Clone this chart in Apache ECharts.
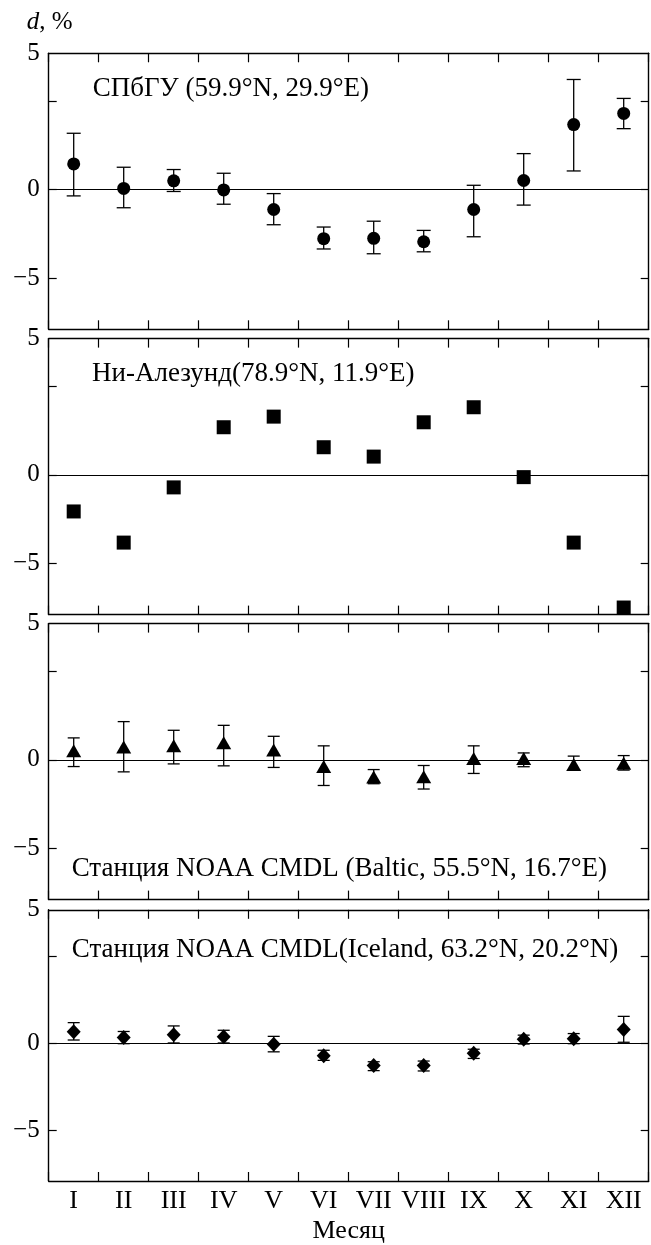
<!DOCTYPE html>
<html>
<head>
<meta charset="utf-8">
<script src="https://cdn.jsdelivr.net/npm/echarts@6/dist/echarts.min.js"></script>
<style>
html,body{margin:0;padding:0;background:#fff;}
#chart{width:651px;height:1245px;}
</style>
</head>
<body>
<div id="chart"></div>
<script>
// ---- data ----
const months = ['I','II','III','IV','V','VI','VII','VIII','IX','X','XI','XII'];
const yTickValues = [5, 0, -5];
const yLabelTexts = ['5', '0', '\u22125'];

const spbuValue = [1.45, 0.06, 0.49, -0.02, -1.13, -2.78, -2.76, -2.95, -1.13, 0.51, 3.67, 4.30];
const spbuLow   = [-0.36, -1.03, -0.11, -0.83, -1.99, -3.36, -3.63, -3.52, -2.67, -0.88, 1.05, 3.44];
const spbuHigh  = [3.18, 1.26, 1.13, 0.92, -0.23, -2.12, -1.79, -2.31, 0.24, 2.03, 6.22, 5.15];

const nyValue = [-2.07, -3.83, -0.71, 2.69, 3.29, 1.56, 1.03, 2.97, 3.82, -0.13, -3.83, -7.50];

const balticValue = [0.52, 0.72, 0.80, 0.97, 0.56, -0.38, -0.97, -0.95, 0.07, 0.08, -0.26, -0.20];
const balticLow   = [-0.38, -0.68, -0.23, -0.34, -0.43, -1.45, -1.35, -1.65, -0.77, -0.39, -0.58, -0.58];
const balticHigh  = [1.24, 2.16, 1.67, 1.95, 1.33, 0.79, -0.55, -0.32, 0.79, 0.39, 0.21, 0.24];

const icelandValue = [0.68, 0.36, 0.51, 0.40, -0.04, -0.70, -1.26, -1.26, -0.55, 0.25, 0.28, 0.81];
const icelandLow   = [0.21, 0.00, 0.04, 0.04, -0.47, -0.96, -1.55, -1.57, -0.85, -0.02, 0.00, 0.08];
const icelandHigh  = [1.21, 0.70, 1.02, 0.77, 0.42, -0.38, -1.04, -1.00, -0.32, 0.49, 0.58, 1.57];

const panelTitles = [
  '\u0421\u041f\u0431\u0413\u0423 (59.9\u00b0N, 29.9\u00b0E)',
  '\u041d\u0438-\u0410\u043b\u0435\u0437\u0443\u043d\u0434(78.9\u00b0N, 11.9\u00b0E)',
  '\u0421\u0442\u0430\u043d\u0446\u0438\u044f NOAA CMDL (Baltic, 55.5\u00b0N, 16.7\u00b0E)',
  '\u0421\u0442\u0430\u043d\u0446\u0438\u044f NOAA CMDL(Iceland, 63.2\u00b0N, 20.2\u00b0N)'
];
const xAxisName = '\u041c\u0435\u0441\u044f\u0446';
const yAxisName = 'd, %';

// ---- layout / style ----
const FONT = "'Liberation Serif','Times New Roman',serif";
const Y_MIN = -7.9, Y_MAX = 7.7;
const gridTops = [53.3, 338.6, 623.6, 909.8];
const GRID_H = 276;
const GRID_LEFT = 48.7, GRID_RIGHT = 2.3;
const AX_W = 1.4;

const panels = [
  {value: spbuValue, low: spbuLow, high: spbuHigh, symbol: 'circle', size: 13, cap: 14},
  {value: nyValue, low: null, high: null, symbol: 'rect', size: 14, cap: 12},
  {value: balticValue, low: balticLow, high: balticHigh, symbol: 'triangle', size: [15, 13], cap: 12},
  {value: icelandValue, low: icelandLow, high: icelandHigh, symbol: 'diamond', size: [14, 15], cap: 12}
];

const grid = [], xAxis = [], yAxis = [], series = [];
panels.forEach((p, i) => {
  grid.push({left: GRID_LEFT, right: GRID_RIGHT, top: gridTops[i], height: GRID_H, containLabel: false});
  const isLast = i === panels.length - 1;
  ['bottom', 'top'].forEach(pos => {
    xAxis.push({
      type: 'category', gridIndex: i, data: months, position: pos, boundaryGap: true,
      axisLine: {show: true, onZero: false, lineStyle: {color: '#000', width: AX_W}},
      axisTick: {show: true, inside: true, length: 9, interval: 0, alignWithLabel: false, lineStyle: {color: '#000', width: 1.2}},
      axisLabel: {show: isLast && pos === 'bottom', interval: 0, color: '#000', fontFamily: FONT, fontSize: 26, margin: 7},
      name: (isLast && pos === 'bottom') ? xAxisName : '',
      nameLocation: 'middle', nameGap: 37,
      nameTextStyle: {color: '#000', fontFamily: FONT, fontSize: 26},
      splitLine: {show: false}
    });
  });
  ['left', 'right'].forEach(pos => {
    yAxis.push({
      type: 'value', gridIndex: i, position: pos, min: Y_MIN, max: Y_MAX,
      axisLine: {show: true, onZero: false, lineStyle: {color: '#000', width: AX_W}},
      axisTick: {show: true, inside: true, length: 8, customValues: yTickValues, lineStyle: {color: '#000', width: 1.2}},
      axisLabel: {
        show: pos === 'left', color: '#000', fontFamily: FONT, fontSize: 25, margin: 9,
        customValues: [Y_MAX, 0, -5],
        formatter: v => yLabelTexts[[Y_MAX, 0, -5].indexOf(v)] ?? ''
      },
      splitLine: {show: false}
    });
  });
  const xi = i * 2, yi = i * 2;
  series.push({
    type: 'scatter', xAxisIndex: xi, yAxisIndex: yi, symbol: p.symbol, symbolSize: p.size,
    itemStyle: {color: '#000', opacity: 1}, data: p.value.map((v, k) => [k, v]), z: 5, clip: false,
    markLine: {silent: true, symbol: 'none', label: {show: false},
      lineStyle: {color: '#000', width: 1.1, type: 'solid', opacity: 1}, data: [{yAxis: 0}], animation: false}
  });
  if (p.low) {
    const cap = p.cap;
    series.push({
      type: 'custom', xAxisIndex: xi, yAxisIndex: yi, z: 4,
      data: p.low.map((lo, k) => [k, lo, p.high[k]]),
      renderItem: (params, api) => {
        const x = api.value(0);
        const a = api.coord([x, api.value(1)]);
        const b = api.coord([x, api.value(2)]);
        const st = {stroke: '#000', lineWidth: 1.3, fill: null};
        return {type: 'group', children: [
          {type: 'line', shape: {x1: a[0], y1: a[1], x2: b[0], y2: b[1]}, style: st},
          {type: 'line', shape: {x1: a[0] - cap / 2, y1: a[1], x2: a[0] + cap / 2, y2: a[1]}, style: st},
          {type: 'line', shape: {x1: b[0] - cap / 2, y1: b[1], x2: b[0] + cap / 2, y2: b[1]}, style: st}
        ]};
      }
    });
  }
});

const titlePos = [[92.7, 89.2], [92, 374], [71.7, 869.7], [71.8, 950.3]];
const graphic = panelTitles.map((t, i) => ({
  type: 'text', left: titlePos[i][0], top: titlePos[i][1] - 14, z: 10,
  style: {text: t, fill: '#000', font: "27px " + FONT}
}));
graphic.push({
  type: 'text', left: 26.7, top: 10, z: 10,
  style: {
    text: '{i|d}, %', fill: '#000', font: "25px " + FONT,
    rich: {i: {fontStyle: 'italic', fontFamily: FONT, fontSize: 25, fill: '#000'}}
  }
});

const chart = echarts.init(document.getElementById('chart'), null, {renderer: 'canvas'});
chart.setOption({
  animation: false,
  backgroundColor: '#fff',
  grid, xAxis, yAxis, series, graphic
});
</script>
</body>
</html>
